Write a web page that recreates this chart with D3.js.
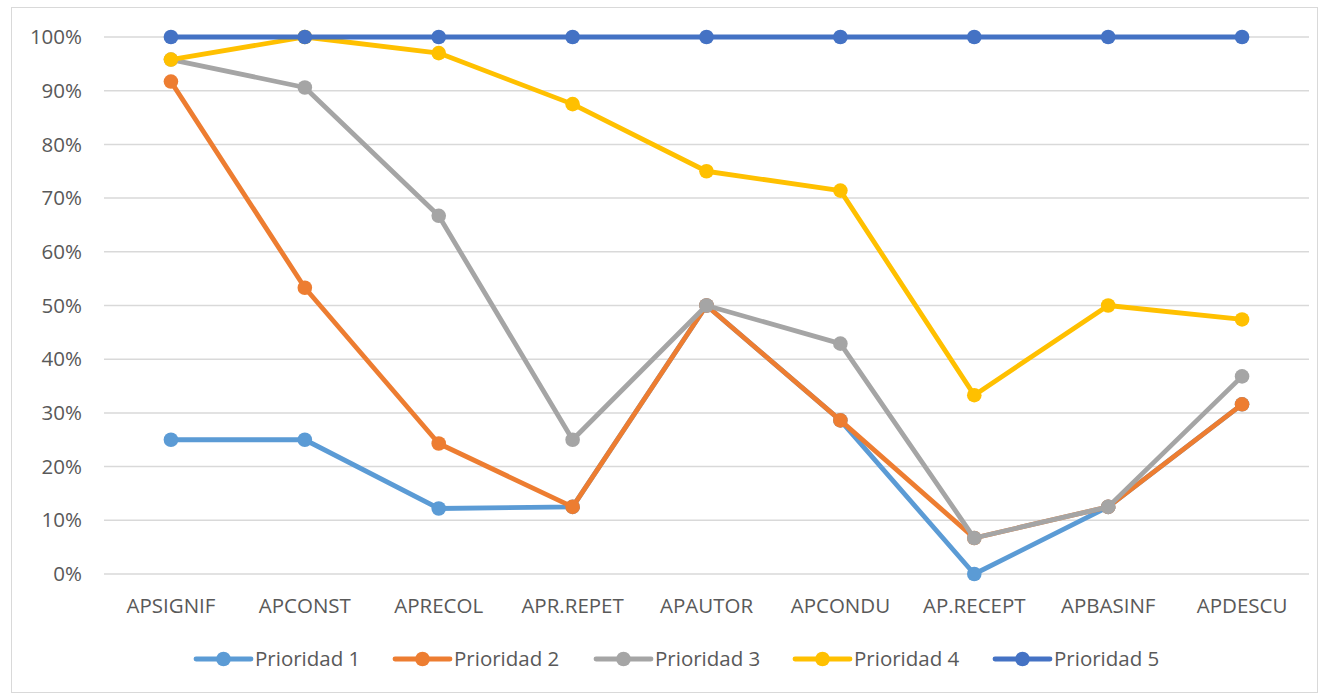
<!DOCTYPE html>
<html>
<head>
<meta charset="utf-8">
<script src="https://cdn.jsdelivr.net/npm/d3@7"></script>
<style>
  body { margin: 0; background: #fff; }
  text { font-family: "Open Sans", "Noto Sans", sans-serif; fill: #595959; }
</style>
</head>
<body>
<div id="chart"></div>
<script>
var categories = ["APSIGNIF", "APCONST", "APRECOL", "APR.REPET", "APAUTOR", "APCONDU", "AP.RECEPT", "APBASINF", "APDESCU"];
var seriesNames = ["Prioridad 1", "Prioridad 2", "Prioridad 3", "Prioridad 4", "Prioridad 5"];
var p1 = [0.25, 0.25, 0.122, 0.125, 0.50, 0.286, 0.0, 0.125, 0.316];
var p2 = [0.917, 0.533, 0.243, 0.125, 0.50, 0.286, 0.067, 0.125, 0.316];
var p3 = [0.958, 0.906, 0.667, 0.25, 0.50, 0.429, 0.067, 0.125, 0.368];
var p4 = [0.958, 1.0, 0.97, 0.875, 0.75, 0.714, 0.333, 0.50, 0.474];
var p5 = [1, 1, 1, 1, 1, 1, 1, 1, 1];
var yTicks = [0, 0.1, 0.2, 0.3, 0.4, 0.5, 0.6, 0.7, 0.8, 0.9, 1.0];
var colors = ["#5b9bd5", "#ed7d31", "#a5a5a5", "#ffc000", "#4472c4"];

var allSeries = [p1, p2, p3, p4, p5];

var W = 1318, H = 693;
var margin = {top: 37, bottom: 119, left: 104, right: 9};
var fontSize = "20.5px";

var svg = d3.select("#chart").append("svg")
    .attr("width", W).attr("height", H);

// outer frame
svg.append("rect")
    .attr("x", 11.5).attr("y", 7.5)
    .attr("width", W - 12).attr("height", H - 8)
    .attr("fill", "none").attr("stroke", "#d9d9d9").attr("stroke-width", 1);

var x = d3.scaleBand().domain(categories)
    .range([margin.left, W - margin.right]);
var y = d3.scaleLinear().domain([0, 1])
    .range([H - margin.bottom, margin.top]);

// gridlines
svg.append("g").selectAll("line")
    .data(yTicks).enter().append("line")
    .attr("x1", margin.left).attr("x2", W - margin.right)
    .attr("y1", function(d){ return y(d); })
    .attr("y2", function(d){ return y(d); })
    .attr("stroke", "#d9d9d9").attr("stroke-width", 1.5);

// y labels
svg.append("g").selectAll("text")
    .data(yTicks).enter().append("text")
    .attr("x", 82).attr("y", function(d){ return y(d); })
    .attr("dy", "0.35em")
    .attr("text-anchor", "end")
    .style("font-size", fontSize)
    .text(d3.format(".0%"));

// x labels
svg.append("g").selectAll("text")
    .data(categories).enter().append("text")
    .attr("x", function(d){ return x(d) + x.bandwidth() / 2; })
    .attr("y", 606)
    .attr("dy", "0.35em")
    .attr("text-anchor", "middle")
    .style("font-size", fontSize)
    .text(function(d){ return d; });

var line = d3.line()
    .x(function(d, i){ return x(categories[i]) + x.bandwidth() / 2; })
    .y(function(d){ return y(d); });

allSeries.forEach(function(s, k) {
    var g = svg.append("g");
    g.append("path")
        .datum(s)
        .attr("d", line)
        .attr("fill", "none")
        .attr("stroke", colors[k])
        .attr("stroke-width", 4.8)
        .attr("stroke-linejoin", "round");
    g.selectAll("circle")
        .data(s).enter().append("circle")
        .attr("cx", function(d, i){ return x(categories[i]) + x.bandwidth() / 2; })
        .attr("cy", function(d){ return y(d); })
        .attr("r", 7.3)
        .attr("fill", colors[k]);
});

// legend
var legendX = [196, 395, 596, 795, 995];
var legend = svg.append("g");
seriesNames.forEach(function(n, k) {
    var lg = legend.append("g").attr("transform", "translate(" + legendX[k] + ",659)");
    lg.append("line").attr("x1", 0).attr("x2", 55)
        .attr("stroke", colors[k]).attr("stroke-width", 4.8).attr("stroke-linecap", "round");
    lg.append("circle").attr("cx", 27.5).attr("r", 7.3).attr("fill", colors[k]);
    lg.append("text").attr("x", 59).attr("dy", "0.35em")
        .style("font-size", fontSize).text(n);
});
</script>
</body>
</html>
